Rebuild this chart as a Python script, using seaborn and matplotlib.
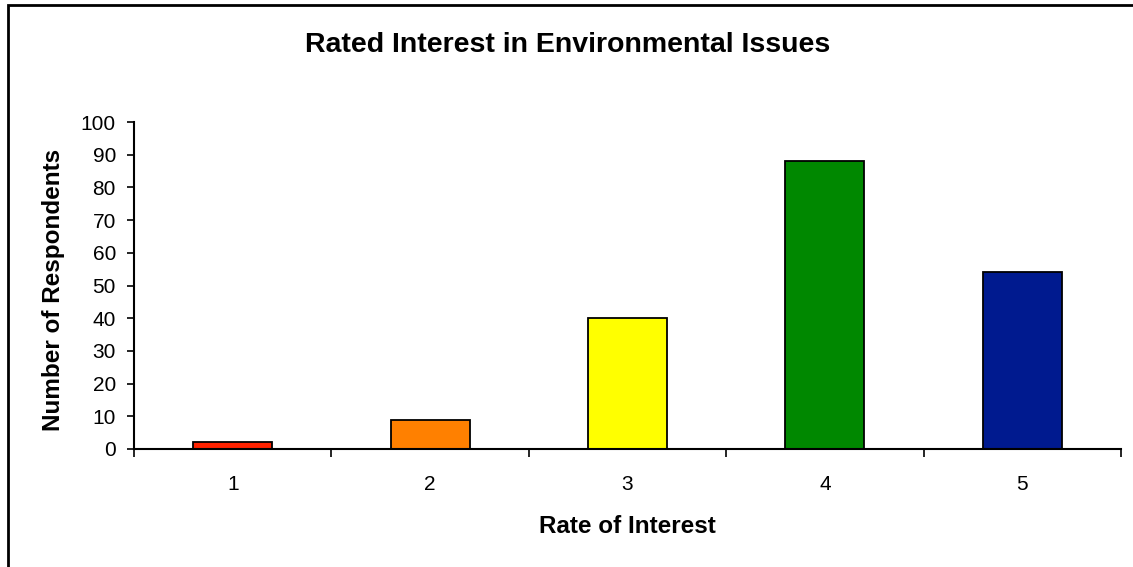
import matplotlib
matplotlib.use('Agg')
import matplotlib.pyplot as plt
import seaborn as sns
import pandas as pd
from matplotlib.patches import Rectangle

# data
ratings = ['1', '2', '3', '4', '5']
respondents = [2, 9, 40, 88, 54]
bar_colors = ['#FF2200', '#FF8000', '#FFFF00', '#008800', '#001A8F']

sns.set_style('white', rc={'text.color': 'black', 'axes.labelcolor': 'black',
                           'xtick.color': 'black', 'ytick.color': 'black'})
plt.rcParams['font.family'] = ['Liberation Sans', 'DejaVu Sans']

plot_df = pd.DataFrame({'Rate': ratings, 'Count': respondents})

fig = plt.figure(figsize=(11.33, 5.67), dpi=100)
ax = fig.add_axes([134 / 1133, 1 - 449 / 567, (1121 - 134) / 1133, (449 - 122) / 567])

sns.barplot(data=plot_df, x='Rate', y='Count', hue='Rate', order=ratings,
            palette=dict(zip(ratings, bar_colors)), legend=False,
            width=0.4, edgecolor='black', linewidth=1.3, saturation=1, ax=ax)

ax.set_xlim(-0.5, 4.5)
ax.set_ylim(0, 100)
ax.set_yticks(range(0, 101, 10))

# category boundaries carry the tick marks, labels sit in the middle
ax.set_xticks([i - 0.5 for i in range(6)], minor=True)
ax.tick_params(axis='x', which='major', length=0, pad=18.5, labelsize=15)
ax.tick_params(axis='x', which='minor', length=6, width=1.2, direction='out')
ax.tick_params(axis='y', which='major', length=5, width=1.2, direction='out',
               labelsize=15, pad=8)
ax.tick_params(left=True, bottom=True, which='both')

for side in ['top', 'right']:
    ax.spines[side].set_visible(False)
for side in ['left', 'bottom']:
    ax.spines[side].set_color('black')
    ax.spines[side].set_linewidth(1.5)

ax.set_xlabel('Rate of Interest', fontsize=17.5, fontweight='bold', va='baseline')
ax.xaxis.set_label_coords(0.5, (449 - 533) / 327)
ax.set_ylabel('Number of Respondents', fontsize=17.5, fontweight='bold')
ax.yaxis.set_label_coords((65 - 134) / 987, (449 - 290) / 327)
fig.text(568 / 1133, 1 - 52 / 567, 'Rated Interest in Environmental Issues',
         fontsize=20.5, fontweight='bold', ha='center', va='baseline')

# outer frame of the chart area
fig.patches.append(Rectangle((8 / 1133, -0.05), 1.2, 1 - 5 / 567 + 0.05,
                             transform=fig.transFigure, fill=False,
                             edgecolor='black', linewidth=2))

plt.savefig('out.png', dpi=100)
